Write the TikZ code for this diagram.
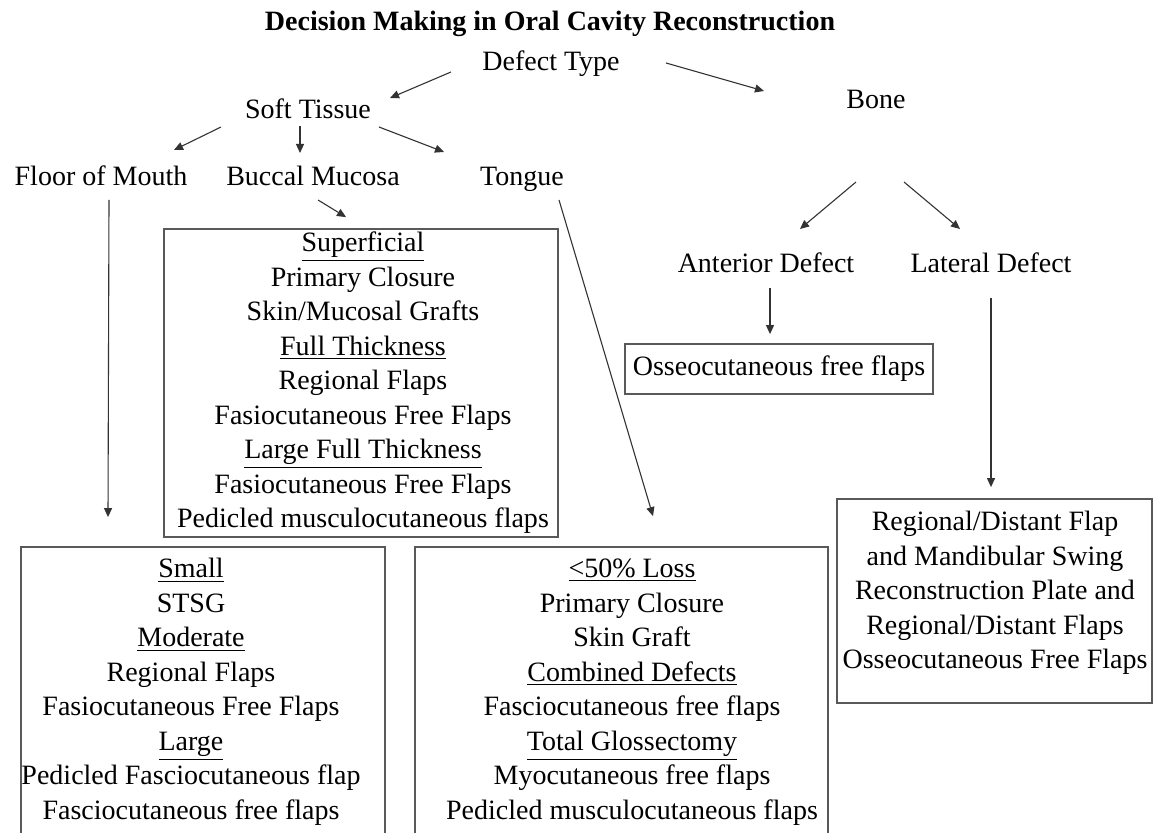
\documentclass[tikz,border=0pt]{standalone}
\usepackage{fontspec}
\setmainfont{Liberation Serif}
\usepackage{tikz}
\usetikzlibrary{arrows.meta,positioning,fit}

\begin{document}
\begin{tikzpicture}[
  x=0.5pt, y=-0.5pt,
  plain/.style={inner sep=0pt, font=\fontsize{14}{17.25}\selectfont},
  term/.style={plain, text height=10pt, text depth=3pt},
  listing/.style={plain, align=center},
  frame/.style={draw=black!65, line width=0.9pt, inner sep=0pt},
  arrow/.style={-{Triangle[length=4.5pt,width=4pt]}, draw=black!80, line width=0.55pt}
]
\useasboundingbox (0,0) rectangle (1154,833);

\node[term, font=\fontsize{14}{17.25}\selectfont\bfseries] (title) at (550,24) {Decision Making in Oral Cavity Reconstruction};
\node[term] (deftype) at (551,64) {Defect Type};
\node[term] (soft) at (308,112) {Soft Tissue};
\node[term] (bone) at (876,102) {Bone};
\node[term] (fom) at (101,179) {Floor of Mouth};
\node[term] (buccal) at (313,179) {Buccal Mucosa};
\node[term] (tongue) at (522,179) {Tongue};
\node[term] (anterior) at (766,266) {Anterior Defect};
\node[term] (lateral) at (991,266) {Lateral Defect};

\node[listing] (suptext) at (363,383) {\underline{Superficial}\\Primary Closure\\Skin/Mucosal Grafts\\\underline{Full Thickness}\\Regional Flaps\\Fasiocutaneous Free Flaps\\\underline{Large Full Thickness}\\Fasiocutaneous Free Flaps\\Pedicled musculocutaneous flaps};
\node[frame, fit={(164,229) (558,537)}] (supbox) {};

\node[term, frame, minimum width=154pt, minimum height=25pt] (osseo) at (779,369) {Osseocutaneous free flaps};

\node[listing] (fomtext) at (191,692) {\underline{Small}\\STSG\\\underline{Moderate}\\Regional Flaps\\Fasiocutaneous Free Flaps\\\underline{Large}\\Pedicled Fasciocutaneous flap\\Fasciocutaneous free flaps};
\node[frame, fit={(21,547) (385,850)}] (fombox) {};

\node[listing] (tongtext) at (632,692) {\underline{<50\% Loss}\\Primary Closure\\Skin Graft\\\underline{Combined Defects}\\Fasciocutaneous free flaps\\\underline{Total Glossectomy}\\Myocutaneous free flaps\\Pedicled musculocutaneous flaps};
\node[frame, fit={(415,547) (828,850)}] (tongbox) {};

\node[listing] (lattext) at (995,593) {Regional/Distant Flap\\and Mandibular Swing\\Reconstruction Plate and\\Regional/Distant Flaps\\Osseocutaneous Free Flaps};
\node[frame, fit={(837,499) (1152,703)}] (latbox) {};

\draw[arrow] ([shift={(-100,8)}]deftype.center) -- ([shift={(82,-14)}]soft.center);
\draw[arrow] ([shift={(115,-1)}]deftype.center) -- ([shift={(-112,-11)}]bone.center);
\draw[arrow] ([shift={(-87,15)}]soft.center) -- ([shift={(73,-29)}]fom.center);
\draw[arrow] ([shift={(-8,14)}]soft.center) -- ([shift={(-13,-26)}]buccal.center);
\draw[arrow] ([shift={(71,15)}]soft.center) -- ([shift={(-78,-27)}]tongue.center);
\draw[arrow] ([shift={(-20,80)}]bone.center) -- ([shift={(34,-37)}]anterior.center);
\draw[arrow] ([shift={(28,80)}]bone.center) -- ([shift={(-31,-37)}]lateral.center);
\draw[arrow] ([shift={(8,21)}]fom.center) -- ([shift={(-95,-29)}]fombox.north);
\draw[arrow] ([shift={(5,21)}]buccal.center) -- ([shift={(-15,-11)}]supbox.north);
\draw[arrow] ([shift={(37,21)}]tongue.center) -- ([shift={(31.5,-30)}]tongbox.north);
\draw[arrow] ([shift={(4,22)}]anterior.center) -- ([shift={(-9,-9)}]osseo.north);
\draw[arrow] ([shift={(0,32)}]lateral.center) -- ([shift={(-3.5,-11)}]latbox.north);
\end{tikzpicture}
\end{document}
